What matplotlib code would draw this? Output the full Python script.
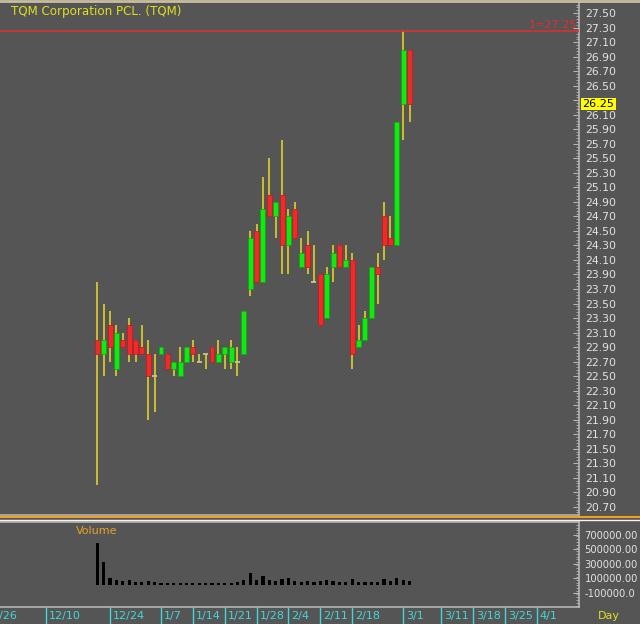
import numpy as np
import matplotlib
matplotlib.use("Agg")
import matplotlib.pyplot as plt
from matplotlib.lines import Line2D

# daily candles, index 0 = first trading day
opens = [23.0, 22.8, 23.2, 22.6, 23.0, 23.2, 23.0, 22.9, 22.8, 22.5,
         22.8, 22.8, 22.6, 22.5, 22.7, 22.9, 22.7, 22.8, 22.9, 22.7,
         22.8, 22.7, 22.7, 22.8, 23.7, 24.5, 23.8, 25.0, 24.7, 25.0,
         24.3, 24.8, 24.0, 24.3, 23.8, 23.9, 23.3, 24.0, 24.3, 24.0,
         24.1, 22.9, 23.0, 23.3, 24.0, 24.7, 24.4, 24.3, 26.25, 27.0]
highs = [23.8, 23.5, 23.4, 23.2, 23.1, 23.3, 23.0, 23.2, 23.0, 22.8,
         22.9, 22.8, 22.7, 22.9, 22.9, 23.0, 22.8, 22.8, 22.9, 23.0,
         22.9, 23.0, 22.9, 23.4, 24.5, 24.6, 25.25, 25.5, 24.9, 25.75,
         24.8, 24.9, 24.4, 24.5, 24.3, 23.9, 24.0, 24.3, 24.3, 24.3,
         24.2, 23.2, 23.4, 24.0, 24.2, 24.9, 24.7, 26.0, 27.25, 27.0]
lows = [21.0, 22.5, 22.7, 22.5, 22.9, 22.7, 22.7, 22.8, 21.9, 22.0,
        22.8, 22.6, 22.5, 22.5, 22.7, 22.7, 22.7, 22.6, 22.7, 22.7,
        22.6, 22.6, 22.5, 22.8, 23.6, 23.8, 23.8, 24.7, 24.4, 23.9,
        23.9, 24.4, 24.0, 23.9, 23.8, 23.2, 23.3, 23.8, 24.0, 24.0,
        22.6, 22.9, 23.0, 23.3, 23.5, 24.1, 24.3, 24.3, 25.75, 26.0]
closes = [22.8, 23.0, 22.9, 23.1, 22.9, 22.8, 22.8, 22.8, 22.5, 22.5,
          22.9, 22.6, 22.7, 22.7, 22.9, 22.8, 22.7, 22.8, 22.7, 22.8,
          22.9, 22.9, 22.7, 23.4, 24.4, 23.8, 24.8, 24.7, 24.9, 24.3,
          24.7, 24.4, 24.2, 24.0, 23.8, 23.2, 23.9, 24.2, 24.0, 24.1,
          22.8, 23.0, 23.3, 24.0, 23.9, 24.3, 24.3, 26.0, 27.0, 26.25]
volumes = [584, 322, 110, 78, 64, 69, 46, 46, 60, 46,
           37, 37, 37, 41, 41, 41, 37, 41, 41, 41,
           41, 41, 46, 78, 170, 69, 129, 78, 60, 92,
           97, 60, 51, 60, 51, 60, 69, 60, 46, 46,
           83, 55, 51, 51, 51, 92, 64, 101, 78, 64]
volumes = [v * 1000 for v in volumes]

# week separators on the time axis (trading day index) and their labels
date_pos = [-18, -8, 2, 10, 15, 20, 25, 30, 35, 40, 48, 54, 59, 64, 69]
date_labels = ["11/26", "12/10", "12/24", "1/7", "1/14", "1/21", "1/28", "2/4",
               "2/11", "2/18", "3/1", "3/11", "3/18", "3/25", "4/1"]

price_ticks = np.round(np.arange(20.7, 27.51, 0.2), 2)
vol_ticks = [700000, 500000, 300000, 100000, -100000]

BG = "#555555"
TXT = "#e2e2e2"
FRAME = "#b4b4b4"
UP = "#12e812"
DOWN = "#f02a2a"
WICK = "#d6c62a"
CYAN = "#3ed8d8"

plt.rcParams["font.family"] = ["DejaVu Sans"]

W, H = 640, 624
fig = plt.figure(figsize=(W / 100, H / 100), dpi=100, facecolor=BG)


def box(x0, y0, x1, y1):
    # pixel box (top-left origin) -> figure fraction rect
    return [x0 / W, 1 - y1 / H, (x1 - x0) / W, (y1 - y0) / H]


ax = fig.add_axes(box(0, 3, 579, 515), facecolor=BG)
axv = fig.add_axes(box(0, 522, 579, 607), facecolor=BG, sharex=ax)
axd = fig.add_axes(box(0, 607, 579, 624), facecolor=BG, sharex=ax)

x = np.arange(len(opens))
o = np.array(opens)
c = np.array(closes)
up = c >= o

# candles
ax.vlines(x, lows, highs, color=WICK, lw=1.3, zorder=2)
body = np.where(np.abs(c - o) < 1e-9, 0, c - o)
colors = [UP if u else DOWN for u in up]
edges = ["#0aa80a" if u else "#b81c1c" for u in up]
ax.bar(x, body, bottom=o, width=0.78, color=colors, edgecolor=edges,
       linewidth=0.5, zorder=3)
doji = np.abs(c - o) < 1e-9
ax.hlines(o[doji], x[doji] - 0.4, x[doji] + 0.4, color="#d8c890", lw=1.2, zorder=3)

# max-high reference line
hi = max(highs)
ax.axhline(hi, color="#d83030", lw=1.2, zorder=4)
ax.annotate(f"1={hi:.2f}", xy=(1, hi), xycoords=("axes fraction", "data"),
            xytext=(-1, 1), textcoords="offset points", ha="right", va="bottom",
            color="#e03030", fontsize=8)

ax.set_xlim(-15.27, 75.6)
ax.set_ylim(20.585, 27.642)
ax.yaxis.tick_right()
ax.set_yticks(price_ticks)
# the tick label under the last-price box is hidden, as in the terminal
last = closes[-1]
ax.set_yticklabels(["" if abs(t - last) < 0.1 else f"{t:.2f}" for t in price_ticks])
ax.set_yticks(np.arange(20.62, 27.64, 0.04), minor=True)

# last close label
ax.annotate(f"{last:.2f}", xy=(1, last), xycoords=("axes fraction", "data"),
            xytext=(2.5, 0), textcoords="offset points", ha="left", va="center",
            color="black", fontsize=8, annotation_clip=False, zorder=10,
            bbox=dict(boxstyle="square,pad=0.12", fc="#ffff00", ec="none"))

# volume
axv.bar(x, volumes, width=0.5, color="black", zorder=3)
axv.set_ylim(-296600, 875900)
axv.yaxis.tick_right()
axv.set_yticks(vol_ticks)
axv.set_yticklabels([f"{v:.2f}" if v > 0 else f"{v:.1f}" for v in vol_ticks])
axv.set_yticks(np.arange(-280000, 875000, 40000), minor=True)
axv.text(76 / 579, 0.9, "Volume", transform=axv.transAxes, color="#e8a028",
         fontsize=8, ha="left", va="center")

for a in (ax, axv):
    a.tick_params(axis="y", which="both", direction="in", colors=FRAME,
                  labelcolor=TXT, labelsize=7.8, pad=4.5)
    a.tick_params(axis="y", which="major", length=4)
    a.tick_params(axis="y", which="minor", length=2.5)
    a.tick_params(axis="x", bottom=False, labelbottom=False)
    a.spines["left"].set_visible(False)
    for s in ("right", "bottom", "top"):
        a.spines[s].set_color(FRAME)
        a.spines[s].set_linewidth(1.2)
ax.spines["top"].set_visible(False)
axv.tick_params(axis="y", which="major", labelsize=7.2, pad=4)

# date strip
axd.set_ylim(0, 1)
axd.axis("off")
axd.vlines(date_pos, 0, 1, color=CYAN, lw=1)
for p, lab in zip(date_pos, date_labels):
    axd.annotate(lab, xy=(p, 0.45), xytext=(2, 0), textcoords="offset points",
                 color=CYAN, fontsize=8, ha="left", va="center",
                 annotation_clip=False)

# decorations
fig.add_artist(Line2D([0, 1], [1 - 1 / H, 1 - 1 / H], color="#c8bea0", lw=2))
fig.add_artist(Line2D([0, 1], [1 - 517 / H, 1 - 517 / H], color="#f0a020", lw=1.5))
fig.add_artist(Line2D([0, 1], [1 - 519.5 / H, 1 - 519.5 / H], color="#f4f4f4", lw=1))
fig.text(11 / W, 1 - 11 / H, "TQM Corporation PCL. (TQM)", color="#e0e020",
         fontsize=8.6, ha="left", va="center")
fig.text(598 / W, 1 - 616 / H, "Day", color="#e0e020", fontsize=8,
         ha="left", va="center")

fig.savefig("out.png", dpi=100, facecolor=BG)
